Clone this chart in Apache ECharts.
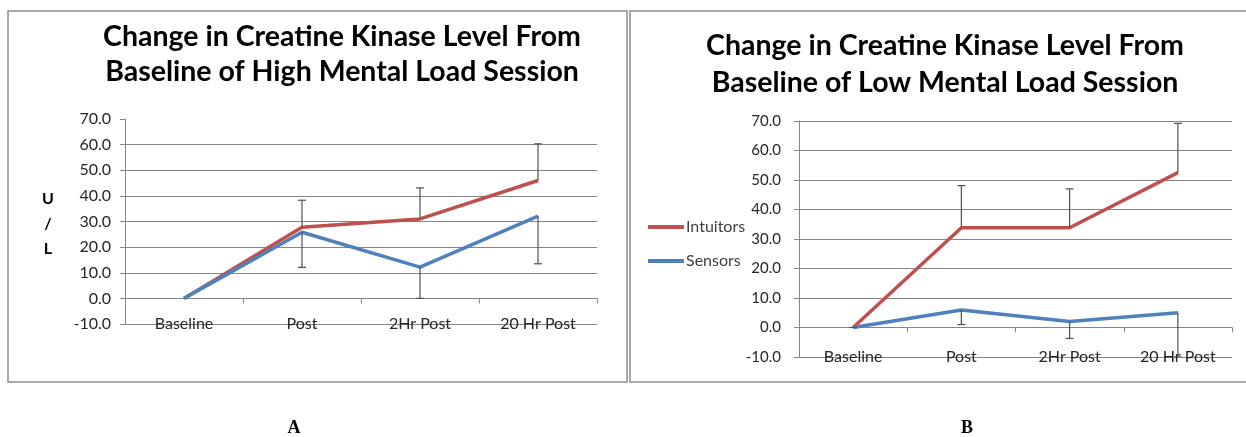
<!DOCTYPE html>
<html>
<head>
<meta charset="utf-8">
<script src="https://cdn.jsdelivr.net/npm/echarts@6/dist/echarts.min.js"></script>
<style>
html,body{margin:0;padding:0;background:#fff;}
#c{width:1246px;height:437px;}
</style>
</head>
<body>
<div id="c"></div>
<script>
// ---- data ----
const categories = ['Baseline', 'Post', '2Hr Post', '20 Hr Post'];
const yTicks = [-10, 0, 10, 20, 30, 40, 50, 60, 70];

// Panel A: High mental load session
const highIntuitors = [0, 27.8, 31.0, 46.0];
const highSensors = [0, 25.8, 12.2, 32.1];
const highIntuitorsUpper = [null, 38.3, 43.1, 60.3];
const highSensorsLower = [null, 12.1, 0.0, 13.5];

// Panel B: Low mental load session
const lowIntuitors = [0, 33.8, 33.8, 52.5];
const lowSensors = [0, 5.9, 2.0, 5.0];
const lowIntuitorsUpper = [null, 48.1, 47.0, 69.2];
const lowSensorsLower = [0, 1.0, -3.7, -10.0];

const titleA = 'Change in Creatine Kinase Level From\nBaseline of High Mental Load Session';
const titleB = 'Change in Creatine Kinase Level From\nBaseline of Low Mental Load Session';

// ---- helpers ----
const RED = '#C0504D', BLUE = '#4F81BD', GRID = '#868686', TXT = '#262626';
const FONT = 'Lato, "Open Sans", sans-serif';

function errData(vals, ends) {
  const out = [];
  vals.forEach((v, i) => { if (ends[i] !== null) out.push([i, v, ends[i]]); });
  return out;
}
function errRender(params, api) {
  const p0 = api.coord([api.value(0), api.value(1)]);
  const p1 = api.coord([api.value(0), api.value(2)]);
  const hw = 4;
  const st = { stroke: '#505050', lineWidth: 1.2 };
  return {
    type: 'group',
    children: [
      { type: 'line', shape: { x1: p0[0], y1: p0[1], x2: p1[0], y2: p1[1] }, style: st },
      { type: 'line', shape: { x1: p1[0] - hw, y1: p1[1], x2: p1[0] + hw, y2: p1[1] }, style: st }
    ]
  };
}
function yAxis(gridIndex, splitColors, fs, margin) {
  return {
    type: 'value', gridIndex, min: -10, max: 70, interval: 10,
    axisLine: { show: true, lineStyle: { color: GRID } },
    axisTick: { show: true, length: 5, lineStyle: { color: GRID } },
    axisLabel: { color: TXT, fontFamily: FONT, fontSize: fs, margin, formatter: v => v.toFixed(1) },
    splitLine: { show: true, lineStyle: { color: splitColors, width: 1 } }
  };
}
function xAxes(gridIndex) {
  return [
    { type: 'category', gridIndex, data: categories, position: 'bottom',
      axisLine: { show: false, onZero: false }, axisTick: { show: false },
      axisLabel: { color: TXT, fontFamily: FONT, fontSize: 16, margin: -8 } },
    { type: 'category', gridIndex, data: categories, position: 'bottom',
      axisLine: { show: true, onZero: true, lineStyle: { color: GRID } },
      axisTick: { show: true, length: 5, lineStyle: { color: GRID } },
      axisLabel: { show: false } }
  ];
}
function lineSeries(name, data, color, xi, yi) {
  return { type: 'line', name, data, xAxisIndex: xi, yAxisIndex: yi,
    showSymbol: false, symbol: 'none', lineStyle: { color, width: 3.5 }, itemStyle: { color },
    z: 3, animation: false };
}
function errSeries(data, xi, yi) {
  return { type: 'custom', data, xAxisIndex: xi, yAxisIndex: yi, renderItem: errRender,
    clip: true, z: 4, animation: false, silent: true };
}

const chart = echarts.init(document.getElementById('c'));
const gridCol = GRID;
chart.setOption({
  animation: false,
  backgroundColor: '#fff',
  title: [
    { text: titleA, left: 337, top: 14, textAlign: 'center',
      textStyle: { fontFamily: FONT, fontWeight: 'bold', fontSize: 28.5, color: '#000', lineHeight: 35 } },
    { text: titleB, left: 940, top: 22, textAlign: 'center',
      textStyle: { fontFamily: FONT, fontWeight: 'bold', fontSize: 28.5, color: '#000', lineHeight: 37 } }
  ],
  legend: {
    data: ['Intuitors', 'Sensors'], orient: 'vertical', left: 643, top: 214,
    itemWidth: 36, itemHeight: 4, itemGap: 18, icon: 'rect',
    textStyle: { color: '#404040', fontFamily: FONT, fontSize: 16, padding: [0, 0, 0, -3] },
    selectedMode: false
  },
  grid: [
    { left: 125, top: 119, width: 472, height: 205 },
    { left: 799, top: 121, width: 433, height: 236 }
  ],
  xAxis: [...xAxes(0), ...xAxes(1)],
  yAxis: [
    yAxis(0, [gridCol, gridCol, gridCol, gridCol, gridCol, gridCol, gridCol, gridCol, 'rgba(0,0,0,0)'], 16, 14),
    yAxis(1, gridCol, 15, 18)
  ],
  series: [
    errSeries(errData(highIntuitors, highIntuitorsUpper), 0, 0),
    errSeries(errData(highSensors, highSensorsLower), 0, 0),
    lineSeries('Intuitors', highIntuitors, RED, 0, 0),
    lineSeries('Sensors', highSensors, BLUE, 0, 0),
    errSeries(errData(lowIntuitors, lowIntuitorsUpper), 2, 1),
    errSeries(errData(lowSensors, lowSensorsLower), 2, 1),
    lineSeries('Intuitors', lowIntuitors, RED, 2, 1),
    lineSeries('Sensors', lowSensors, BLUE, 2, 1)
  ],
  graphic: [
    { type: 'rect', shape: { x: 8, y: 11, width: 619, height: 371 }, style: { fill: 'none', stroke: '#8c8c8c', lineWidth: 1.5 }, z: -1 },
    { type: 'rect', shape: { x: 630, y: 11, width: 630, height: 371 }, style: { fill: 'none', stroke: '#8c8c8c', lineWidth: 1.5 }, z: -1 },
    { type: 'text', x: 48, y: 224, style: { text: 'U\n/\nL', fontFamily: FONT, fontWeight: 'bold', fontSize: 16, lineHeight: 25, fill: '#000', align: 'center', verticalAlign: 'middle' } },
    { type: 'text', x: 294, y: 428, style: { text: 'A', fontFamily: '"Liberation Serif", serif', fontWeight: 'bold', fontSize: 18, fill: '#000', align: 'center', verticalAlign: 'middle' } },
    { type: 'text', x: 967, y: 428, style: { text: 'B', fontFamily: '"Liberation Serif", serif', fontWeight: 'bold', fontSize: 18, fill: '#000', align: 'center', verticalAlign: 'middle' } }
  ]
});
</script>
</body>
</html>
